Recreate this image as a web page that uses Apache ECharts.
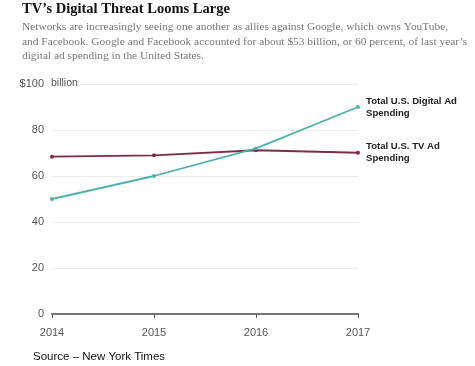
<!DOCTYPE html>
<html><head><meta charset="utf-8">
<script src="https://cdn.jsdelivr.net/npm/echarts@6/dist/echarts.min.js"></script>
<style>html,body{margin:0;padding:0;background:#fff}#c{width:475px;height:366px}</style>
</head><body><div id="c"></div>
<script>
const years = ['2014','2015','2016','2017'];
const digitalAd = [50, 60, 72, 90];
const tvAd = [68.4, 69, 71.2, 70.1];
const yTicks = [0, 20, 40, 60, 80, 100];
const digitalName = 'Total U.S. Digital Ad\nSpending';
const tvName = 'Total U.S. TV Ad\nSpending';

const chart = echarts.init(document.getElementById('c'));
const sans = 'Liberation Sans, Arial, sans-serif';
const serif = 'Liberation Serif, Georgia, serif';
chart.setOption({
  animation: false,
  backgroundColor: '#fff',
  grid: {left: 52, right: 117, top: 84, bottom: 52},
  graphic: [
    {type:'text', left: 22, top: 2, style:{text:"TV\u2019s Digital Threat Looms Large", font:'bold 14.5px '+serif, fill:'#111'}},
    {type:'text', left: 22, top: 20, style:{text:"Networks are increasingly seeing one another as allies against Google, which owns YouTube,\nand Facebook. Google and Facebook accounted for about $53 billion, or 60 percent, of last year\u2019s\ndigital ad spending in the United States.", font:'11.4px '+serif, fill:'#777', lineHeight:14.5}},
    {type:'rect', left: 48, top: 80, z: 100, shape:{width:30, height:8}, style:{fill:'#fff'}},
    {type:'text', left: 51, top: 78, z: 101, style:{text:'billion', font:'10.5px '+sans, fill:'#555'}},
    {type:'text', left: 33, top: 351, style:{text:'Source \u2013 New York Times', font:'11.5px '+sans, fill:'#111'}}
  ],
  xAxis: {
    type: 'category', data: years, boundaryGap: false,
    axisLine: {lineStyle:{color:'#777', width:2}},
    axisTick: {show:true, length:4, lineStyle:{color:'#555'}},
    axisLabel: {color:'#555', fontFamily: sans, fontSize: 11, margin: 13}
  },
  yAxis: {
    type: 'value', min: 0, max: 100, interval: 20,
    axisLine: {show:false}, axisTick:{show:false},
    splitLine: {lineStyle:{color:'#ececec', width:1}},
    axisLabel: {color:'#555', fontFamily: sans, fontSize: 11, margin: 8,
      formatter: v => v === 100 ? '$100' : String(v)}
  },
  series: [
    {name: tvName, type:'line', data: tvAd, symbol:'circle', symbolSize:4,
      lineStyle:{color:'#7a2d4b', width:1.8}, itemStyle:{color:'#7a2d4b'},
      endLabel:{show:true, formatter: tvName, distance: 8, fontFamily: sans, fontSize:9.6, fontWeight:'bold', color:'#222', lineHeight:12}},
    {name: digitalName, type:'line', data: digitalAd, symbol:'circle', symbolSize:4,
      lineStyle:{color:'#4fb2a3', width:1.8}, itemStyle:{color:'#4fb2a3'},
      endLabel:{show:true, formatter: digitalName, distance: 8, fontFamily: sans, fontSize:9.6, fontWeight:'bold', color:'#222', lineHeight:12}}
  ]
});
</script></body></html>
